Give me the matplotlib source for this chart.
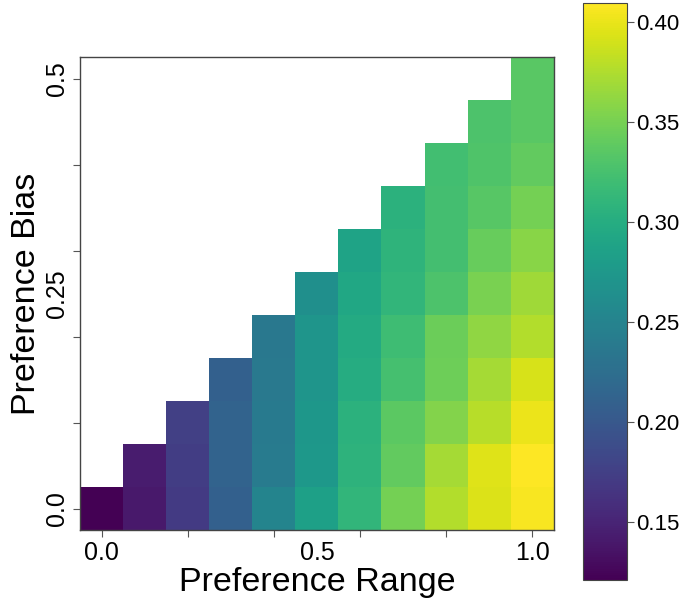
import matplotlib
matplotlib.use("Agg")
import matplotlib.pyplot as plt
import numpy as np

plt.rcParams["font.family"] = ["Liberation Sans", "DejaVu Sans"]

# preference range 0.0 .. 1.0 (columns), preference bias 0.0 .. 0.5 (rows)
range_labels = ["0.0", "0.5", "1.0"]
bias_labels = ["0.0", "0.25", "0.5"]
n_range = 11
n_bias = 11

# one list per range column, bias rows from 0 upwards (only bias <= range/2 exists)
col_00 = [0.121]
col_01 = [0.141, 0.143]
col_02 = [0.170, 0.173, 0.176]
col_03 = [0.210, 0.213, 0.213, 0.210]
col_04 = [0.251, 0.241, 0.239, 0.238, 0.236]
col_05 = [0.285, 0.275, 0.274, 0.272, 0.271, 0.265]
col_06 = [0.311, 0.307, 0.306, 0.300, 0.297, 0.293, 0.288]
col_07 = [0.349, 0.340, 0.337, 0.324, 0.320, 0.311, 0.309, 0.306]
col_08 = [0.376, 0.371, 0.356, 0.346, 0.345, 0.329, 0.323, 0.323, 0.322]
col_09 = [0.394, 0.395, 0.378, 0.371, 0.362, 0.352, 0.342, 0.335, 0.330, 0.329]
col_10 = [0.407, 0.4095, 0.401, 0.392, 0.376, 0.368, 0.358, 0.349, 0.340, 0.336, 0.336]

columns = [col_00, col_01, col_02, col_03, col_04, col_05, col_06, col_07, col_08, col_09, col_10]

grid = np.full((n_bias, n_range), np.nan)
for c, vals in enumerate(columns):
    grid[: len(vals), c] = vals
grid = np.ma.masked_invalid(grid)

fig = plt.figure(figsize=(6.82, 6.06), dpi=100)
ax = fig.add_axes([0.1173, 0.1254, 0.695, 0.7805])
cax = fig.add_axes([0.855, 0.043, 0.0645, 0.952])

im = ax.imshow(grid, origin="lower", cmap="viridis", aspect="auto", interpolation="nearest")

# tick marks every other cell, labels only at 0, 5, 10
ax.xaxis.remove_overlapping_locs = False
ax.yaxis.remove_overlapping_locs = False
ax.set_xticks(np.arange(0, n_range, 2))
ax.set_xticklabels([])
ax.set_xticks([0, 5, 10], minor=True)
ax.set_xticklabels(range_labels, minor=True)
ax.set_yticks(np.arange(0, n_bias, 2))
ax.set_yticklabels([])
ax.set_yticks([0, 5, 10], minor=True)
ax.set_yticklabels(bias_labels, minor=True, rotation=90, va="center")

ax.tick_params(which="major", length=5, width=0.8, color="#555555")
ax.tick_params(which="minor", length=0, labelsize=18, pad=8)
for sp in ax.spines.values():
    sp.set_color("#444444")
    sp.set_linewidth(1.0)

ax.set_xlabel("Preference Range", fontsize=24.5, labelpad=1)
ax.set_ylabel("Preference Bias", fontsize=24.5, labelpad=2)

cb = fig.colorbar(im, cax=cax)
cb.set_ticks([0.15, 0.20, 0.25, 0.30, 0.35, 0.40])
cb.ax.tick_params(labelsize=16, length=5, width=0.8, color="#555555", pad=1.5)
cb.outline.set_edgecolor("#444444")

fig.savefig("out.png", dpi=100)
